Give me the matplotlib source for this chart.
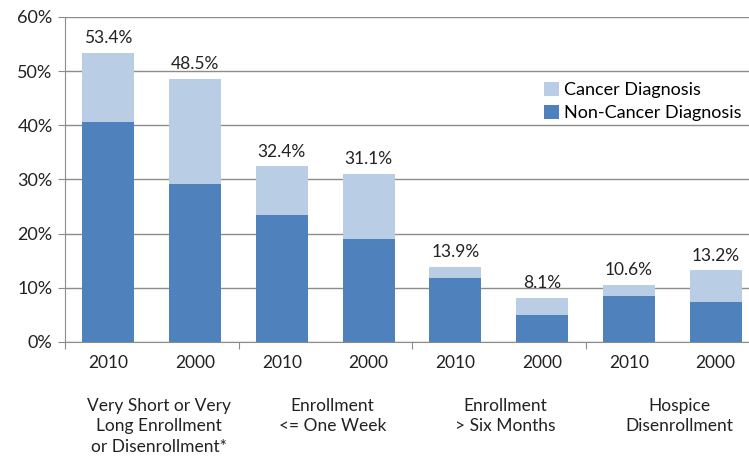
import matplotlib
matplotlib.use("Agg")
import matplotlib.pyplot as plt
from matplotlib.ticker import FuncFormatter

plt.rcParams['font.family'] = ['Lato', 'DejaVu Sans']

years = ["2010", "2000", "2010", "2000", "2010", "2000", "2010", "2000"]
groups = ["Very Short or Very\nLong Enrollment\nor Disenrollment*",
          "Enrollment\n<= One Week",
          "Enrollment\n> Six Months",
          "Hospice\nDisenrollment"]
totals = [53.4, 48.5, 32.4, 31.1, 13.9, 8.1, 10.6, 13.2]
non_cancer = [40.6, 29.1, 23.4, 19.0, 11.8, 5.0, 8.4, 7.4]
cancer = [t - n for t, n in zip(totals, non_cancer)]

dark = "#4F81BD"
light = "#B9CDE5"
grid_c = "#8C8C8C"

fig = plt.figure(figsize=(7.49, 4.58), dpi=100)
ax = fig.add_axes([0.0868, 0.2533, 0.9266, 0.7096])

x = list(range(len(years)))
ax.bar(x, non_cancer, width=0.6, color=dark, label="Non-Cancer Diagnosis", zorder=3)
ax.bar(x, cancer, width=0.6, bottom=non_cancer, color=light, label="Cancer Diagnosis", zorder=3)

for xi, t in zip(x, totals):
    ax.annotate(f"{t:.1f}%", (xi, t), xytext=(0, 5), textcoords="offset points",
                ha="center", va="bottom", fontsize=12.5, color="#222222")

ax.set_xlim(-0.5, 7.5)
ax.set_ylim(0, 60)
ax.set_yticks(range(0, 61, 10))
ax.yaxis.set_major_formatter(FuncFormatter(lambda v, p: f"{v:.0f}%"))
ax.tick_params(axis="y", length=5, color=grid_c, labelsize=13, pad=4, labelcolor="#222222")
ax.grid(axis="y", color=grid_c, lw=1, zorder=0)

# group separator ticks on the x axis
ax.set_xticks([-0.5, 1.5, 3.5, 5.5])
ax.set_xticklabels([])
ax.tick_params(axis="x", length=5, color=grid_c)

for s in ["top", "right"]:
    ax.spines[s].set_visible(False)
ax.spines["left"].set_color(grid_c)
ax.spines["bottom"].set_color(grid_c)

# year labels and group labels below the axis
for xi, y in zip(x, years):
    ax.text(xi, -0.066, y, transform=ax.get_xaxis_transform(), ha="center", va="center",
            fontsize=12.5, color="#222222")
for i, g in enumerate(groups):
    ax.text(2 * i + 0.58, -0.172, g, transform=ax.get_xaxis_transform(), ha="center", va="top",
            fontsize=12.5, color="#222222", linespacing=1.35)

handles, labels = ax.get_legend_handles_labels()
ax.legend(handles[::-1], labels[::-1], loc="upper left", bbox_to_anchor=(0.68, 0.823),
          frameon=False, fontsize=13, handlelength=0.8, handleheight=0.8,
          handletextpad=0.3, labelspacing=0.4, borderaxespad=0)

fig.savefig("out.png", dpi=100)
